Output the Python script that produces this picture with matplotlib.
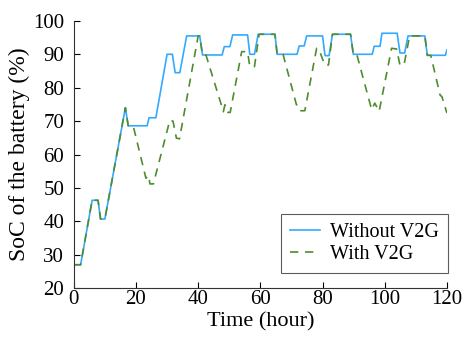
import matplotlib
matplotlib.use("Agg")
import matplotlib.pyplot as plt

# time (hour) and SoC (%)
t_no_v2g = [0, 2.2, 5.9, 7.8, 8.6, 10, 16.6, 17.5, 23.6, 24.2, 26.4, 30, 31.7, 32.6,
            34.1, 36.3, 40.5, 41.4, 47.7, 48.4, 50.2, 51.1, 55.9, 56.6, 58.1, 59.3,
            64.7, 65.4, 71.8, 72.5, 74.1, 74.9, 80, 80.8, 82.1, 83.2, 89, 89.9, 96,
            96.6, 98.5, 99.1, 104, 104.9, 106.4, 107.5, 112.9, 113.7, 119.5, 120]
soc_no_v2g = [27, 27, 46.3, 46.3, 40.7, 40.7, 74, 68.6, 68.6, 71, 71, 90, 90, 84.5,
              84.5, 95.5, 95.5, 89.8, 89.8, 92.3, 92.3, 95.8, 95.8, 90, 90, 96,
              96, 90, 90, 92.5, 92.5, 95.5, 95.5, 89.6, 89.6, 96, 96, 90, 90,
              92.4, 92.4, 96.3, 96.3, 90.4, 90.4, 95.5, 95.5, 89.7, 89.7, 91.3]

t_v2g = [0, 2.2, 5.9, 7.8, 8.6, 10, 16.6, 17.5, 19.1, 23.2, 24.0, 24.5, 25.6, 30.9,
         31.9, 33.0, 34.0, 40.0, 40.5, 41.4, 42.5, 47.5, 48.1, 48.6, 49.6, 50.3,
         54.0, 55.9, 56.6, 58.1, 59.6, 64.7, 65.4, 67.3, 71.6, 72.0, 72.8, 74.3,
         78.1, 78.8, 80.7, 81.9, 83.2, 89.0, 89.9, 91.0, 95.8, 96.8, 98.2, 102.2,
         103.8, 104.9, 106.2, 108.0, 112.9, 113.7, 114.8, 117.8, 118.4, 120]
soc_v2g = [27, 27, 46.3, 46.3, 40.7, 40.7, 74, 68.6, 68.6, 52.9, 53.7, 51.2, 51.2, 70.3,
           70.0, 64.9, 64.7, 95.5, 95.5, 89.8, 89.8, 74.7, 72.8, 74.9, 72.6, 72.6,
           90.8, 90.8, 86.3, 86.3, 96, 96, 90, 90, 74.9, 74.8, 73.1, 73.1,
           91.8, 91.6, 86.8, 86.8, 96, 96, 90, 90, 73.4, 75.4, 72.9, 91.8,
           91.6, 86.8, 86.8, 95.5, 95.5, 89.7, 89.7, 77.8, 77.3, 72.4]

x_ticks = [0, 20, 40, 60, 80, 100, 120]
y_ticks = [20, 30, 40, 50, 60, 70, 80, 90, 100]

plt.rcParams["font.family"] = ["Liberation Serif", "DejaVu Serif"]

fig = plt.figure(figsize=(4.67, 3.37), dpi=100)
ax = fig.add_axes([0.158, 0.145, 0.799, 0.793])

ax.plot(t_no_v2g, soc_no_v2g, color="#33a9ff", lw=1.2, label="Without V2G")
ax.plot(t_v2g, soc_v2g, color="#4e8c2e", lw=1.2, dashes=(5, 4), label="With V2G")

ax.set_xlim(0, 120)
ax.set_ylim(20, 100)
ax.set_xticks(x_ticks)
ax.set_yticks(y_ticks)
ax.tick_params(direction="in", length=4, width=0.8, labelsize=15)
ax.tick_params(axis="x", pad=1)
ax.tick_params(axis="y", pad=7)
for s in ["top", "right"]:
    ax.spines[s].set_visible(False)
for s in ["left", "bottom"]:
    ax.spines[s].set_color("#333333")

ax.set_xlabel("Time (hour)", fontsize=16, labelpad=3)
ax.set_ylabel("SoC of the battery (%)", fontsize=17, labelpad=2)

leg = ax.legend(loc="lower right", bbox_to_anchor=(1.003, 0.056), fontsize=14.5,
                frameon=True, fancybox=False, handlelength=1.5, borderaxespad=0,
                handletextpad=0.5, labelspacing=0.15, borderpad=0.45)
leg.get_frame().set_edgecolor("#333333")
leg.get_frame().set_linewidth(0.8)

fig.savefig("out.png", dpi=100)
